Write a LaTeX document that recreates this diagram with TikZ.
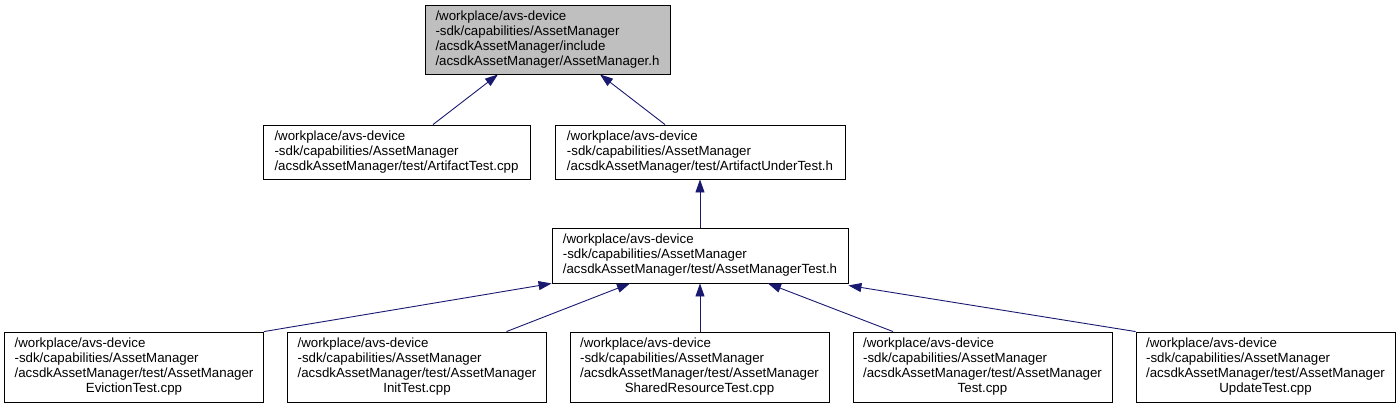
\documentclass[tikz,border=0pt]{standalone}
\usepackage{fontspec}
\setmainfont{Liberation Sans}
\usetikzlibrary{arrows.meta}
\definecolor{edgeblue}{RGB}{25,25,112}
\definecolor{hdrgray}{RGB}{191,191,191}
\begin{document}
\begin{tikzpicture}[x=1pt,y=-1pt,>={Triangle[length=13pt,width=9pt]},
	file/.style={draw=black,line width=0.9pt,inner sep=0pt,align=left,font=\fontsize{13.3}{15}\selectfont},
	leaf/.style={file,minimum width=259pt,minimum height=70pt},
	dep/.style={->,color=edgeblue,line width=0.9pt}]
	\useasboundingbox (0,0) rectangle (1400,408);

	% header and its direct includers
	\node[file,fill=hdrgray,minimum width=245pt,minimum height=69pt] (am) at (547.5,39.5)
		{/workplace/avs-device\\-sdk/capabilities/AssetManager\\/acsdkAssetManager/include\\/acsdkAssetManager/AssetManager.h};
	\node[file,minimum width=267pt,minimum height=54pt] (artifact) at (396.5,152)
		{/workplace/avs-device\\-sdk/capabilities/AssetManager\\/acsdkAssetManager/test/ArtifactTest.cpp};
	\node[file,minimum width=290pt,minimum height=54pt] (aut) at (700,152)
		{/workplace/avs-device\\-sdk/capabilities/AssetManager\\/acsdkAssetManager/test/ArtifactUnderTest.h};
	\node[file,minimum width=296pt,minimum height=55pt] (amt) at (700,255.5)
		{/workplace/avs-device\\-sdk/capabilities/AssetManager\\/acsdkAssetManager/test/AssetManagerTest.h};

	% test sources
	\node[leaf] (evict) at (134,367) {\begin{tabular}{@{}l@{}}/workplace/avs-device\\-sdk/capabilities/AssetManager\\/acsdkAssetManager/test/AssetManager\\\multicolumn{1}{@{}c@{}}{EvictionTest.cpp}\end{tabular}};
	\node[leaf] (init) at (417,367) {\begin{tabular}{@{}l@{}}/workplace/avs-device\\-sdk/capabilities/AssetManager\\/acsdkAssetManager/test/AssetManager\\\multicolumn{1}{@{}c@{}}{InitTest.cpp}\end{tabular}};
	\node[leaf] (shared) at (699.5,367) {\begin{tabular}{@{}l@{}}/workplace/avs-device\\-sdk/capabilities/AssetManager\\/acsdkAssetManager/test/AssetManager\\\multicolumn{1}{@{}c@{}}{SharedResourceTest.cpp}\end{tabular}};
	\node[leaf] (test) at (982.5,367) {\begin{tabular}{@{}l@{}}/workplace/avs-device\\-sdk/capabilities/AssetManager\\/acsdkAssetManager/test/AssetManager\\\multicolumn{1}{@{}c@{}}{Test.cpp}\end{tabular}};
	\node[leaf] (update) at (1265.5,367) {\begin{tabular}{@{}l@{}}/workplace/avs-device\\-sdk/capabilities/AssetManager\\/acsdkAssetManager/test/AssetManager\\\multicolumn{1}{@{}c@{}}{UpdateTest.cpp}\end{tabular}};

	% include edges
	\draw[dep] ([xshift=36.5pt]artifact.north) -- ([xshift=-49.5pt]am.south);
	\draw[dep] ([xshift=-35pt]aut.north) -- ([xshift=52.5pt]am.south);
	\draw[dep] (amt.north) -- (aut.south);
	\draw[dep] (evict.north east) -- (amt.south west);
	\draw[dep] ([xshift=89.5pt]init.north) -- ([xshift=-70pt]amt.south);
	\draw[dep] ([xshift=0.5pt]shared.north) -- (amt.south);
	\draw[dep] ([xshift=-89.5pt]test.north) -- ([xshift=68pt]amt.south);
	\draw[dep] (update.north west) -- ([yshift=-2pt]amt.south east);
\end{tikzpicture}
\end{document}
